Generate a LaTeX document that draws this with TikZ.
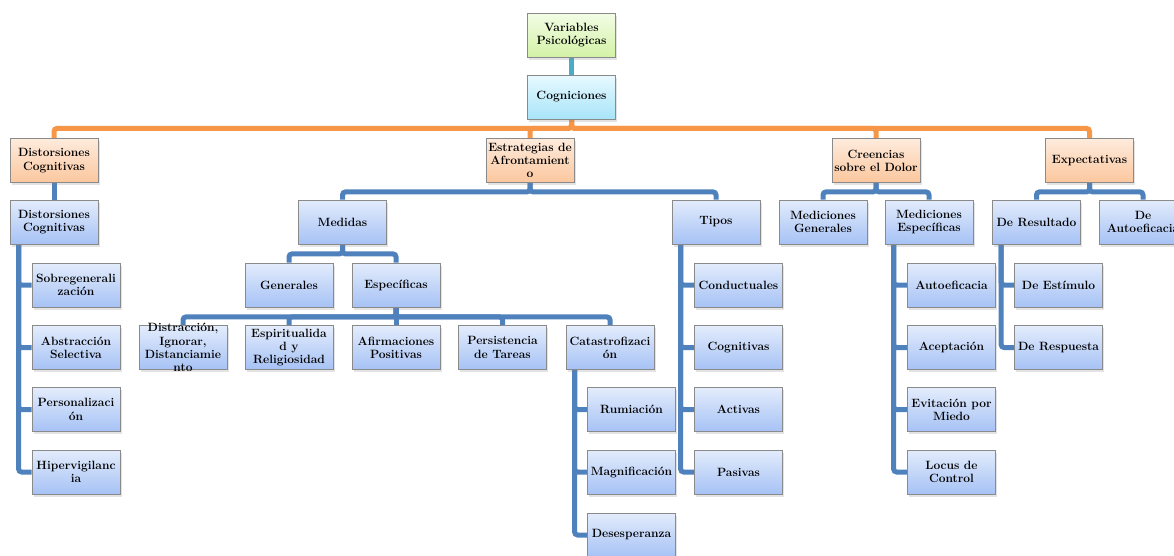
\documentclass[tikz,border=0pt]{standalone}
\usepackage{fontspec}
\usetikzlibrary{shadows}

\definecolor{lineblue}{HTML}{4F81BD}
\definecolor{lineorange}{HTML}{F79646}
\definecolor{lineteal}{HTML}{4BACC6}
\definecolor{boxgray}{HTML}{8A8A8A}
\definecolor{greentop}{HTML}{F3FCE6}
\definecolor{greenbot}{HTML}{D3F2A6}
\definecolor{cyantop}{HTML}{E8F9FF}
\definecolor{cyanbot}{HTML}{A8E4F9}
\definecolor{orangetop}{HTML}{FEEBDD}
\definecolor{orangebot}{HTML}{FBC79E}
\definecolor{bluetop}{HTML}{E3ECFC}
\definecolor{bluebot}{HTML}{A6C2F5}

\pgfdeclarelayer{back}
\pgfsetlayers{back,main}

\tikzset{
  boxtext/.style={align=center, inner sep=0pt, font=\fontsize{12}{13.3}\selectfont\bfseries},
  box/.style={boxtext, draw=boxgray, line width=0.8pt, minimum width=88pt, minimum height=44pt,
    drop shadow={shadow xshift=1.5pt, shadow yshift=-2.5pt, opacity=0.22}},
  greenbox/.style={box, top color=greentop, bottom color=greenbot},
  cyanbox/.style={box, top color=cyantop, bottom color=cyanbot},
  orangebox/.style={box, top color=orangetop, bottom color=orangebot},
  bluebox/.style={box, top color=bluetop, bottom color=bluebot},
  conn/.style={line width=5pt, rounded corners=3pt},
}

\begin{document}
\begin{tikzpicture}[x=1pt, y=-1pt]
\useasboundingbox (0,0) rectangle (1174,555);

% Top
\node[greenbox] (var) at (571.5,35) {Variables\\Psicológicas};
\node[cyanbox] (cog) at (571.5,97) {Cogniciones};

% First level
\node[orangebox] (distor) at (54,160.5) {Distorsiones\\Cognitivas};
\node[orangebox] (estrat) at (530,160.5) {Estrategias de\\Afrontamient\\o};
\node[orangebox] (creen) at (876,160.5) {Creencias\\sobre el Dolor};
\node[orangebox] (expect) at (1089.5,160.5) {Expectativas};

% Second level
\node[bluebox] (distcog) at (54,222) {Distorsiones\\Cognitivas};
\node[bluebox] (medidas) at (342.5,222) {Medidas};
\node[bluebox] (tipos) at (716,222) {Tipos};
\node[bluebox] (medgen) at (823,222) {Mediciones\\Generales};
\node[bluebox] (medesp) at (929,222) {Mediciones\\Específicas};
\node[bluebox] (deres) at (1036.5,222) {De Resultado};
\node[bluebox] (deauto) at (1143,222) {De\\Autoeficacia};

% Distorsiones
\node[bluebox] (sobre) at (76,285) {Sobregenerali\\zación};
\node[bluebox] (abstr) at (76,347.5) {Abstracción\\Selectiva};
\node[bluebox] (personal) at (76,409.5) {Personalizaci\\ón};
\node[bluebox] (hiperv) at (76,472) {Hipervigilanc\\ia};

% Medidas
\node[bluebox] (generales) at (289,285) {Generales};
\node[bluebox] (especif) at (396,285) {Específicas};
\node[bluebox, label={[boxtext]center:{Distracción,\\Ignorar,\\Distanciamie\\nto}}] (distrac) at (183,347.5) {};
\node[bluebox] (espirit) at (289,347.5) {Espiritualida\\d y\\Religiosidad};
\node[bluebox] (afirm) at (396,347.5) {Afirmaciones\\Positivas};
\node[bluebox] (persist) at (502.5,347.5) {Persistencia\\de Tareas};
\node[bluebox] (catas) at (610,347.5) {Catastrofizaci\\ón};
\node[bluebox] (rumia) at (631.5,409.5) {Rumiación};
\node[bluebox] (magnif) at (631.5,472) {Magnificación};
\node[bluebox] (desesp) at (631.5,535) {Desesperanza};

% Tipos
\node[bluebox] (conduct) at (738.5,285) {Conductuales};
\node[bluebox] (cogni) at (738.5,347.5) {Cognitivas};
\node[bluebox] (activ) at (738.5,409.5) {Activas};
\node[bluebox] (pasiv) at (738.5,472) {Pasivas};

% Creencias
\node[bluebox] (autoef) at (951.5,285) {Autoeficacia};
\node[bluebox] (acept) at (951.5,347.5) {Aceptación};
\node[bluebox] (evita) at (951.5,409.5) {Evitación por\\Miedo};
\node[bluebox] (locus) at (951.5,472) {Locus de\\Control};

% Expectativas
\node[bluebox] (destim) at (1058.5,285) {De Estímulo};
\node[bluebox] (derespu) at (1058.5,347.5) {De Respuesta};

% Connectors
\begin{pgfonlayer}{back}
  \draw[conn, lineteal] (var) -- (cog);
  \foreach \c in {distor,estrat,creen,expect}
    \draw[conn, lineorange] (cog.south) -- ++(0,9) -| (\c.north);
  \draw[conn, lineblue] (distor) -- (distcog);
  \foreach \c in {medidas,tipos}
    \draw[conn, lineblue] (estrat.south) -- ++(0,9) -| (\c.north);
  \foreach \c in {medgen,medesp}
    \draw[conn, lineblue] (creen.south) -- ++(0,9) -| (\c.north);
  \foreach \c in {deres,deauto}
    \draw[conn, lineblue] (expect.south) -- ++(0,9) -| (\c.north);
  \foreach \c in {generales,especif}
    \draw[conn, lineblue] (medidas.south) -- ++(0,9.5) -| (\c.north);
  \foreach \c in {distrac,espirit,afirm,persist,catas}
    \draw[conn, lineblue] (especif.south) -- ++(0,9.5) -| (\c.north);
  % side branches
  \foreach \c in {sobre,abstr,personal,hiperv}
    \draw[conn, lineblue] ([xshift=9pt]distcog.south west) |- (\c.west);
  \foreach \c in {rumia,magnif,desesp}
    \draw[conn, lineblue] ([xshift=9pt]catas.south west) |- (\c.west);
  \foreach \c in {conduct,cogni,activ,pasiv}
    \draw[conn, lineblue] ([xshift=9pt]tipos.south west) |- (\c.west);
  \foreach \c in {autoef,acept,evita,locus}
    \draw[conn, lineblue] ([xshift=9pt]medesp.south west) |- (\c.west);
  \foreach \c in {destim,derespu}
    \draw[conn, lineblue] ([xshift=9pt]deres.south west) |- (\c.west);
\end{pgfonlayer}

\end{tikzpicture}
\end{document}
